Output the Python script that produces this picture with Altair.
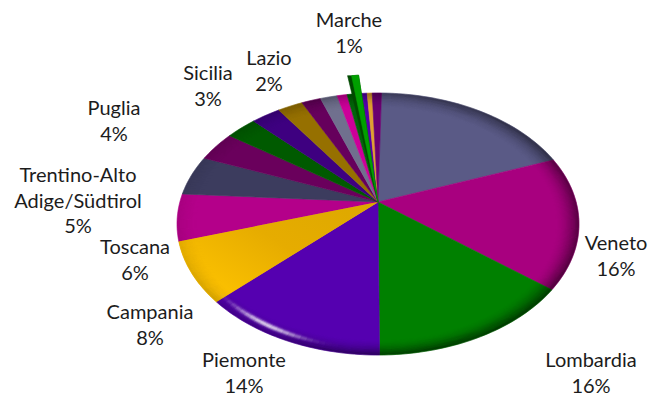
import math
import altair as alt
import pandas as pd

names = ["Emilia-Romagna", "Veneto", "Lombardia", "Piemonte", "Campania", "Toscana",
         "Trentino", "Puglia", "Sicilia", "Lazio", "Marche", "Liguria", "Friuli",
         "Abruzzo", "Umbria", "Calabria", "Sardegna", "Basilicata"]
shares = [16.6, 16.5, 16.5, 15.0, 8.0, 5.8, 4.7, 3.4, 2.6, 2.4, 2.05, 1.55, 1.36, 0.8, 1.2, 0.4, 0.4, 0.74]
colors = ["#5a5a86", "#a8007f", "#008000", "#5500b0", "#eeb000", "#b4008a",
          "#3c3c5e", "#6a005c", "#005a00", "#3e0080", "#967000", "#66005c",
          "#70708e", "#cc0099", "#00640a", "#5500aa", "#e0a030", "#6a0070"]
exploded = 14
gold = 4

label_text = ["Marche\n1%", "Lazio\n2%", "Sicilia\n3%", "Puglia\n4%",
              "Trentino-Alto\nAdige/Südtirol\n5%", "Toscana\n6%", "Campania\n8%",
              "Piemonte\n14%", "Lombardia\n16%", "Veneto\n16%"]
label_px = [349, 269, 208, 114, 78, 135, 150, 244, 591, 616]
label_py = [21, 59, 74, 109, 176, 248, 313, 361, 361, 244]

CX, CY, RX, RY, APEX_V, START = 378, 224, 201, 131, 0.168, 1.0
W, H = 640, 389
ORIGIN = 8
xs = alt.Scale(domain=[(ORIGIN - CX) / RX, (ORIGIN + W - CX) / RX], nice=False, zero=False)
ys = alt.Scale(domain=[(CY - ORIGIN - H) / RY, (CY - ORIGIN) / RY], nice=False, zero=False)


def rim(t, r=1.0):
    a = math.radians(t)
    return r * math.sin(a), r * math.cos(a)


rows = []
cum = START
spans = []
for i, s in enumerate(shares):
    t0, t1 = cum, cum + s * 3.6
    spans.append((t0, t1))
    rows.append({"i": i, "o": 0, "u": 0.0, "v": APEX_V, "c": colors[i]})
    n = max(2, int(s * 3))
    for k in range(n + 1):
        u, v = rim(t0 + (t1 - t0) * k / n)
        rows.append({"i": i, "o": k + 1, "u": u, "v": v, "c": colors[i]})
    cum = t1
pie = pd.DataFrame(rows)


def polygon(df, fill=None):
    enc = dict(
        x=alt.X("u:Q", scale=xs, axis=None),
        y=alt.Y("v:Q", scale=ys, axis=None),
        detail="i:N",
        order="o:Q",
    )
    if fill is None:
        return alt.Chart(df).mark_line(interpolate="linear-closed", strokeWidth=0.6).encode(
            fill=alt.Fill("c:N", scale=None), stroke=alt.Stroke("c:N", scale=None), **enc)
    return alt.Chart(df).mark_line(interpolate="linear-closed", strokeWidth=0, fill=fill).encode(**enc)


base = polygon(pie)
gold_grad = alt.Gradient(
    gradient="linear", x1=1, y1=0, x2=0, y2=0.8,
    stops=[alt.GradientStop(color="#dca800", offset=0), alt.GradientStop(color="#e6ac00", offset=0.5),
           alt.GradientStop(color="#ffc400", offset=1)],
)
gold_layer = polygon(pie[pie.i == gold], fill=gold_grad)


def rules(df, color, width):
    return alt.Chart(df).mark_rule(strokeWidth=width, color=color).encode(
        x=alt.X("u:Q", scale=xs, axis=None),
        y=alt.Y("v:Q", scale=ys, axis=None),
        x2="u2:Q",
        y2="v2:Q",
        opacity=alt.Opacity("a:Q", scale=None),
    )


# rim shading
dark = []
STEP = 4
RINGS = 28
for ring in range(RINGS):
    r = 0.998 - ring * 0.0045
    f = (1 - ring / RINGS) ** 2.2
    for t in range(0, 360, STEP):
        s = 0.52 + 0.42 * math.cos(math.radians(t - 105))
        u, v = rim(t, r)
        u2, v2 = rim(t + STEP, r)
        dark.append({"u": u, "v": v, "u2": u2, "v2": v2, "a": round(f * s * 0.36, 3)})
# highlight on the lower left bevel
light = []
for ring in range(8):
    r = 0.925 + ring * 0.0065
    rf = math.exp(-((ring - 3.5) ** 2) / 3.5)
    for t in range(192, 240, 2):
        a = 0.5 * rf * math.exp(-((t - 215) / 11) ** 2)
        u, v = rim(t, r)
        u2, v2 = rim(t + 2, r)
        light.append({"u": u, "v": v, "u2": u2, "v2": v2, "a": round(a, 3)})
shade = rules(pd.DataFrame(dark), "#000000", 1.5)
glow = rules(pd.DataFrame(light), "#ffffff", 2.5)

# exploded slice: narrow wedge pulled out along its own direction
t0, t1 = spans[exploded]
t0, t1 = t0 + 2.4, t1 - 0.2
k = 1.168
face, side = [], []
face.append({"i": 0, "o": 0, "u": 0.0, "v": APEX_V, "c": "#00a000"})
u, v = rim(t0)
face.append({"i": 0, "o": 1, "u": u * k, "v": APEX_V + (v - APEX_V) * k, "c": "#00a000"})
u, v = rim(t1)
face.append({"i": 0, "o": 2, "u": u * k, "v": APEX_V + (v - APEX_V) * k, "c": "#00a000"})
side.append({**face[0], "c": "#004a00"})
side.append({**face[1], "u": face[1]["u"] - 4.0 / RX, "c": "#004a00"})
side.append({**face[1], "c": "#004a00"})
side.append({**face[2], "c": "#004a00"})
for n_, row in enumerate(side):
    row["o"] = n_
ex_side = polygon(pd.DataFrame(side))
ex_face = polygon(pd.DataFrame(face))

labels = pd.DataFrame({
    "t": label_text,
    "u": [(p - CX) / RX for p in label_px],
    "v": [(CY - p) / RY for p in label_py],
})
text = alt.Chart(labels).mark_text(font="Lato", fontSize=20, lineHeight=25.5, lineBreak="\n",
                                   align="center", baseline="middle", color="#1c1c1c").encode(
    x=alt.X("u:Q", scale=xs, axis=None),
    y=alt.Y("v:Q", scale=ys, axis=None),
    text="t:N",
)

chart = alt.layer(base, gold_layer, shade, glow, ex_side, ex_face, text).properties(
    width=W, height=H, padding=0, background="white",
    autosize=alt.AutoSizeParams(type="none"),
).configure_view(stroke=None)
chart.save("out.html", embed_options={"renderer": "svg", "actions": False})
